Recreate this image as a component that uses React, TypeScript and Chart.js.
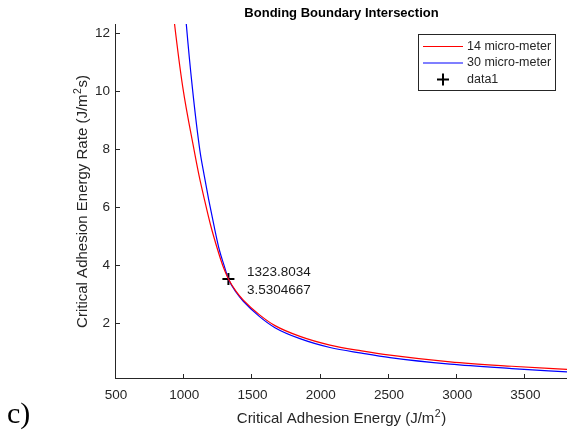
import React, { useEffect, useRef } from "react";
import { Chart, registerables } from "chart.js";

Chart.register(...registerables);

const chartTitle = "Bonding Boundary Intersection";
const xAxisTitleParts = ["Critical Adhesion Energy (J/m", "2", ")"];
const yAxisTitleParts = ["Critical Adhesion Energy Rate (J/m", "2", "s)"];
const panelLabel = "c)";

const xTicks = [500, 1000, 1500, 2000, 2500, 3000, 3500];
const yTicks = [2, 4, 6, 8, 10, 12];

const redLabel = "14 micro-meter";
const redX = [910, 929, 989, 1072, 1108, 1149, 1193, 1246, 1285, 1324, 1380, 1433, 1550, 1665, 1848, 2068, 2300, 2508, 2948, 3400, 3805];
const redY = [13.15, 12.32, 10.15, 7.98, 7.11, 6.25, 5.39, 4.52, 3.96, 3.53, 3.1, 2.8, 2.3, 1.92, 1.55, 1.25, 1.05, 0.9, 0.67, 0.52, 0.41];

const blueLabel = "30 micro-meter";
const blueX = [1001, 1015, 1059, 1114, 1146, 1180, 1217, 1258, 1292, 1324, 1380, 1433, 1550, 1665, 1848, 2068, 2300, 2508, 2948, 3400, 3805];
const blueY = [13.15, 12.32, 10.15, 7.98, 7.11, 6.25, 5.39, 4.52, 4.0, 3.53, 3.07, 2.76, 2.24, 1.85, 1.47, 1.165, 0.97, 0.815, 0.59, 0.44, 0.325];

const markerLabel = "data1";
const markerX = [1323.8034];
const markerY = [3.5304667];
const markerText = ["1323.8034", "3.5304667"];

const SANS = "'Liberation Sans', Arial, Helvetica, sans-serif";
const AXIS_COLOR = "#262626";

function drawSupText(
  ctx: CanvasRenderingContext2D,
  parts: string[],
  cx: number,
  baseY: number,
  size: number,
  supSize: number,
  rise: number
) {
  const main = `${size}px ${SANS}`;
  const sup = `${supSize}px ${SANS}`;
  ctx.font = main;
  const w0 = ctx.measureText(parts[0]).width;
  const w2 = ctx.measureText(parts[2]).width;
  ctx.font = sup;
  const w1 = ctx.measureText(parts[1]).width + 1;
  const total = w0 + w1 + w2;
  let x = cx - total / 2;
  ctx.textAlign = "left";
  ctx.textBaseline = "alphabetic";
  ctx.font = main;
  ctx.fillText(parts[0], x, baseY);
  x += w0;
  ctx.font = sup;
  ctx.fillText(parts[1], x + 0.5, baseY - rise);
  x += w1;
  ctx.font = main;
  ctx.fillText(parts[2], x, baseY);
}

const overlayPlugin = {
  id: "overlay",
  afterDraw(chart: any) {
    const ctx = chart.ctx as CanvasRenderingContext2D;
    const { left, right, top, bottom } = chart.chartArea;
    const xs = chart.scales.x;
    const ys = chart.scales.y;
    ctx.save();

    // axis lines
    ctx.strokeStyle = AXIS_COLOR;
    ctx.lineWidth = 1;
    ctx.beginPath();
    ctx.moveTo(left - 0.5, top);
    ctx.lineTo(left - 0.5, bottom);
    ctx.moveTo(left - 1, bottom - 0.5);
    ctx.lineTo(right, bottom - 0.5);
    ctx.stroke();

    // inward ticks
    ctx.beginPath();
    yTicks.forEach((v) => {
      const py = Math.round(ys.getPixelForValue(v)) + 0.5;
      ctx.moveTo(left, py);
      ctx.lineTo(left + 4, py);
    });
    xTicks.forEach((v) => {
      const px = Math.round(xs.getPixelForValue(v)) - 0.5;
      ctx.moveTo(px, bottom - 1);
      ctx.lineTo(px, bottom - 5);
    });
    ctx.stroke();

    // title
    ctx.fillStyle = "#000";
    ctx.font = `bold 13px ${SANS}`;
    ctx.textAlign = "center";
    ctx.textBaseline = "middle";
    ctx.fillText(chartTitle, (left + right) / 2, 13);

    // axis titles
    ctx.fillStyle = AXIS_COLOR;
    drawSupText(ctx, xAxisTitleParts, (left + right) / 2, 423, 15, 10.5, 6.5);
    ctx.save();
    ctx.translate(87, (top + bottom) / 2);
    ctx.rotate(-Math.PI / 2);
    drawSupText(ctx, yAxisTitleParts, 0, 0, 15, 10.5, 6.5);
    ctx.restore();

    // legend
    const lx = 418.5, ly = 34.5, lw = 137, lh = 56;
    ctx.fillStyle = "#fff";
    ctx.fillRect(lx, ly, lw, lh);
    ctx.strokeStyle = AXIS_COLOR;
    ctx.lineWidth = 1;
    ctx.strokeRect(lx, ly, lw, lh);
    const rows = chart.data.datasets;
    ctx.font = `12.5px ${SANS}`;
    ctx.textAlign = "left";
    ctx.textBaseline = "middle";
    rows.forEach((ds: any, i: number) => {
      const ry = 46.5 + i * 16.5;
      if (ds.showLine) {
        ctx.strokeStyle = ds.borderColor;
        ctx.lineWidth = 1.2;
        ctx.beginPath();
        ctx.moveTo(423, ry);
        ctx.lineTo(463, ry);
        ctx.stroke();
      } else {
        ctx.strokeStyle = "#000";
        ctx.lineWidth = 2;
        ctx.beginPath();
        ctx.moveTo(437, ry);
        ctx.lineTo(449, ry);
        ctx.moveTo(443, ry - 6);
        ctx.lineTo(443, ry + 6);
        ctx.stroke();
      }
      ctx.fillStyle = AXIS_COLOR;
      ctx.fillText(ds.label, 467, ry);
    });

    // data tip text
    const mx = xs.getPixelForValue(markerX[0]);
    const my = ys.getPixelForValue(markerY[0]);
    ctx.fillStyle = "#1a1a1a";
    ctx.font = `13.5px ${SANS}`;
    ctx.textAlign = "left";
    ctx.textBaseline = "middle";
    ctx.fillText(markerText[0], mx + 18.5, my - 7);
    ctx.fillText(markerText[1], mx + 18.5, my + 11);

    // panel label
    ctx.fillStyle = "#000";
    ctx.font = `30px 'Liberation Serif', 'Times New Roman', serif`;
    ctx.textBaseline = "alphabetic";
    ctx.fillText(panelLabel, 7, 423);

    ctx.restore();
  },
};

export default function App() {
  const canvasRef = useRef<HTMLCanvasElement | null>(null);

  useEffect(() => {
    const canvas = canvasRef.current;
    if (!canvas) return;
    const tickFont = { family: SANS, size: 13.5 };
    const chart = new Chart(canvas, {
      type: "scatter",
      data: {
        datasets: [
          {
            label: redLabel,
            data: redX.map((x, i) => ({ x, y: redY[i] })),
            borderColor: "#ff0000",
            backgroundColor: "#ff0000",
            borderWidth: 1.2,
            pointRadius: 0,
            showLine: true,
            cubicInterpolationMode: "monotone",
          },
          {
            label: blueLabel,
            data: blueX.map((x, i) => ({ x, y: blueY[i] })),
            borderColor: "#0000ff",
            backgroundColor: "#0000ff",
            borderWidth: 1.2,
            pointRadius: 0,
            showLine: true,
            cubicInterpolationMode: "monotone",
          },
          {
            label: markerLabel,
            data: markerX.map((x, i) => ({ x, y: markerY[i] })),
            borderColor: "#000",
            backgroundColor: "#000",
            borderWidth: 2,
            pointStyle: "cross",
            pointRadius: 6,
            showLine: false,
          },
        ],
      } as any,
      options: {
        responsive: false,
        animation: false,
        devicePixelRatio: 1,
        layout: { autoPadding: false, padding: { left: 0, right: 0, top: 24, bottom: 0 } },
        plugins: {
          legend: { display: false },
          tooltip: { enabled: false },
          title: { display: false },
        },
        scales: {
          x: {
            type: "linear",
            min: 500,
            max: 3805,
            afterBuildTicks: (s: any) => {
              s.ticks = xTicks.map((v) => ({ value: v }));
            },
            afterFit: (s: any) => {
              s.height = 55;
              s.paddingLeft = 0;
              s.paddingRight = 0;
            },
            grid: { display: false, drawTicks: false },
            border: { display: false },
            ticks: {
              padding: 8,
              maxRotation: 0,
              autoSkip: false,
              color: AXIS_COLOR,
              font: tickFont,
              callback: (v: any) => String(v),
            },
          },
          y: {
            type: "linear",
            min: 0.08,
            max: 12.32,
            afterBuildTicks: (s: any) => {
              s.ticks = yTicks.map((v) => ({ value: v }));
            },
            afterFit: (s: any) => {
              s.width = 116;
              s.paddingTop = 0;
              s.paddingBottom = 0;
            },
            grid: { display: false, drawTicks: false },
            border: { display: false },
            ticks: {
              padding: 6,
              color: AXIS_COLOR,
              font: tickFont,
              callback: (v: any) => String(v),
            },
          },
        },
      } as any,
      plugins: [overlayPlugin],
    });
    return () => chart.destroy();
  }, []);

  return (
    <div style={{ position: "fixed", left: 0, top: 0, width: 567, height: 434, background: "#fff" }}>
      <canvas ref={canvasRef} width={567} height={434} style={{ display: "block" }} />
    </div>
  );
}
